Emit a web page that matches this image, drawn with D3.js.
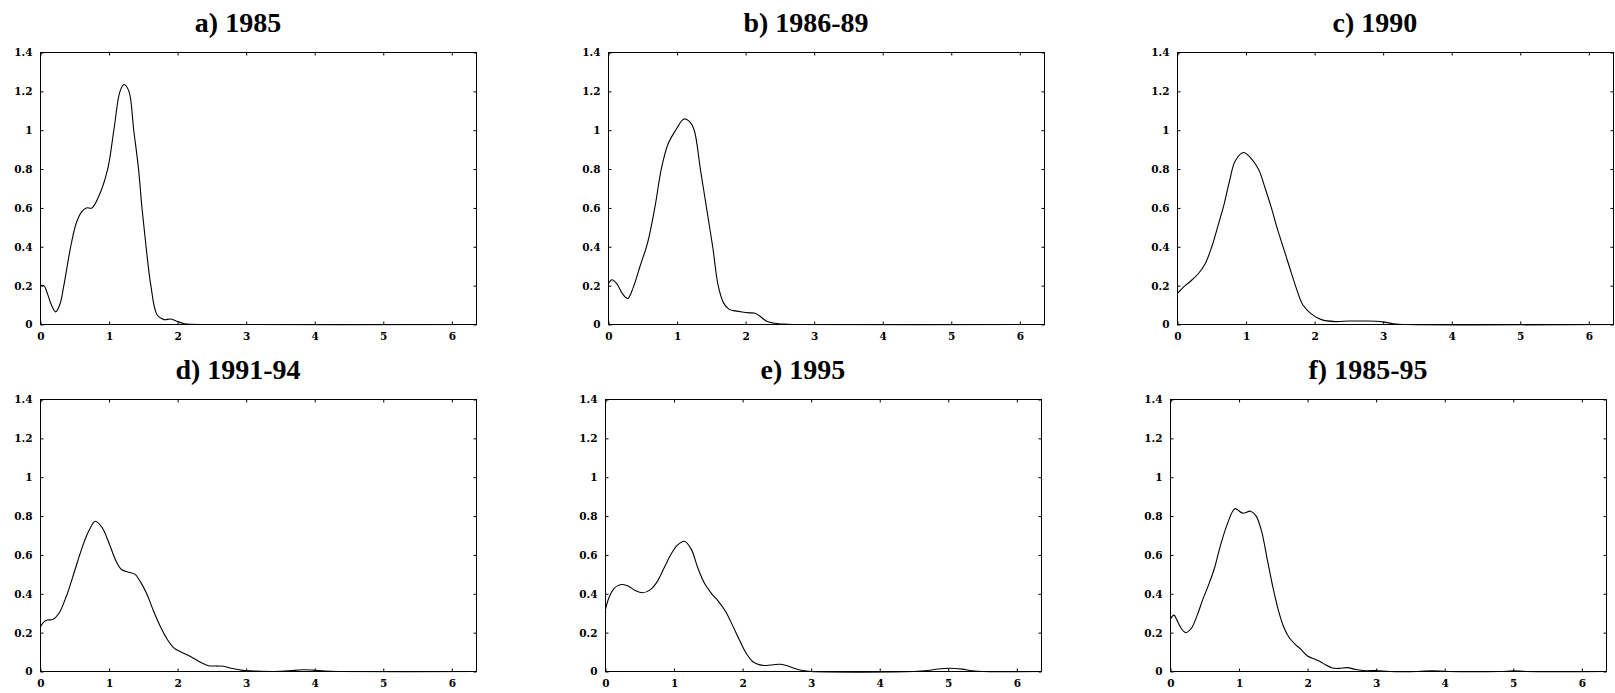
<!DOCTYPE html>
<html>
<head>
<meta charset="utf-8">
<script src="https://cdn.jsdelivr.net/npm/d3@7"></script>
<style>
  html, body { margin: 0; padding: 0; background: #fff; }
  svg { display: block; }
</style>
</head>
<body>
<svg id="chart" width="1615" height="693"></svg>
<script>
// Kernel density estimates, one per period
const titles = ["a) 1985", "b) 1986-89", "c) 1990", "d) 1991-94", "e) 1995", "f) 1985-95"];

const xA = [0, 0.05, 0.1, 0.16, 0.22, 0.28, 0.34, 0.44, 0.52, 0.6, 0.67, 0.75, 0.85, 0.98, 1.07, 1.16, 1.22, 1.29, 1.36, 1.43, 1.48, 1.54, 1.61, 1.7, 1.8, 1.9, 2.0, 2.1, 2.2, 2.4, 6.36];
const yA = [0.20, 0.20, 0.16, 0.10, 0.065, 0.10, 0.20, 0.40, 0.52, 0.58, 0.60, 0.60, 0.66, 0.80, 1.00, 1.20, 1.235, 1.20, 1.00, 0.80, 0.60, 0.40, 0.20, 0.05, 0.025, 0.028, 0.015, 0.004, 0.001, 0, 0];

const xB = [0, 0.05, 0.12, 0.2, 0.28, 0.36, 0.46, 0.57, 0.68, 0.77, 0.87, 0.98, 1.1, 1.18, 1.25, 1.34, 1.43, 1.52, 1.6, 1.68, 1.76, 1.85, 1.95, 2.05, 2.14, 2.22, 2.3, 2.4, 2.55, 2.7, 6.36];
const yB = [0.21, 0.23, 0.21, 0.16, 0.134, 0.19, 0.30, 0.42, 0.61, 0.80, 0.93, 1.00, 1.058, 1.045, 1.00, 0.80, 0.60, 0.40, 0.20, 0.11, 0.078, 0.07, 0.064, 0.06, 0.058, 0.04, 0.018, 0.008, 0.002, 0, 0];

const xC = [0, 0.08, 0.18, 0.3, 0.4, 0.5, 0.6, 0.68, 0.76, 0.84, 0.96, 1.06, 1.18, 1.28, 1.37, 1.45, 1.54, 1.63, 1.72, 1.83, 1.95, 2.1, 2.3, 2.5, 2.7, 2.9, 3.02, 3.15, 3.35, 6.36];
const yC = [0.16, 0.19, 0.22, 0.26, 0.31, 0.40, 0.52, 0.62, 0.74, 0.84, 0.885, 0.86, 0.80, 0.70, 0.60, 0.50, 0.40, 0.30, 0.20, 0.10, 0.055, 0.025, 0.015, 0.018, 0.018, 0.017, 0.012, 0.004, 0, 0];

const xD = [0, 0.05, 0.1, 0.18, 0.27, 0.38, 0.5, 0.6, 0.7, 0.8, 0.9, 1.0, 1.1, 1.18, 1.3, 1.38, 1.46, 1.55, 1.65, 1.75, 1.85, 1.95, 2.05, 2.2, 2.32, 2.45, 2.55, 2.67, 2.8, 2.95, 3.15, 3.4, 3.62, 3.82, 3.98, 4.15, 4.35, 6.36];
const yD = [0.23, 0.255, 0.265, 0.268, 0.30, 0.39, 0.52, 0.63, 0.72, 0.773, 0.74, 0.66, 0.57, 0.525, 0.51, 0.50, 0.46, 0.40, 0.31, 0.23, 0.165, 0.12, 0.10, 0.075, 0.05, 0.03, 0.028, 0.027, 0.015, 0.006, 0.002, 0, 0.003, 0.009, 0.007, 0.002, 0, 0];

const xE = [0, 0.05, 0.12, 0.18, 0.25, 0.33, 0.42, 0.54, 0.65, 0.75, 0.85, 0.95, 1.05, 1.15, 1.25, 1.35, 1.45, 1.55, 1.65, 1.75, 1.85, 1.95, 2.05, 2.15, 2.25, 2.35, 2.45, 2.55, 2.65, 2.75, 2.88, 3.0, 4.5, 4.7, 4.85, 5.02, 5.2, 5.35, 5.5, 6.36];
const yE = [0.32, 0.38, 0.425, 0.442, 0.448, 0.44, 0.42, 0.405, 0.42, 0.46, 0.53, 0.60, 0.65, 0.67, 0.63, 0.53, 0.45, 0.40, 0.36, 0.31, 0.24, 0.165, 0.095, 0.05, 0.034, 0.031, 0.035, 0.037, 0.03, 0.017, 0.005, 0, 0, 0.005, 0.013, 0.017, 0.012, 0.004, 0, 0];

const xF = [0, 0.05, 0.1, 0.16, 0.22, 0.3, 0.39, 0.47, 0.56, 0.64, 0.73, 0.83, 0.94, 1.05, 1.17, 1.25, 1.33, 1.41, 1.49, 1.57, 1.65, 1.73, 1.82, 1.9, 2.0, 2.1, 2.18, 2.26, 2.36, 2.46, 2.58, 2.7, 2.85, 3.0, 3.2, 3.6, 3.82, 4.05, 4.8, 5.0, 5.2, 6.36];
const yF = [0.27, 0.29, 0.26, 0.22, 0.20, 0.22, 0.29, 0.37, 0.45, 0.53, 0.65, 0.76, 0.838, 0.815, 0.825, 0.80, 0.72, 0.58, 0.44, 0.32, 0.23, 0.175, 0.14, 0.115, 0.08, 0.064, 0.052, 0.035, 0.018, 0.016, 0.02, 0.01, 0.004, 0.005, 0, 0, 0.004, 0, 0, 0.003, 0, 0];

const seriesX = [xA, xB, xC, xD, xE, xF];
const seriesY = [yA, yB, yC, yD, yE, yF];

// Axis ticks
const xTickValues = [0, 1, 2, 3, 4, 5, 6];
const xTickLabels = ["0", "1", "2", "3", "4", "5", "6"];
const yTickValues = [0, 0.2, 0.4, 0.6, 0.8, 1, 1.2, 1.4];
const yTickLabels = ["0", "0.2", "0.4", "0.6", "0.8", "1", "1.2", "1.4"];
const xDomain = [0, 6.36];
const yDomain = [0, 1.4];

// Panel frames (left edge of each plot area, top of each row)
const panelLeft = [40, 608, 1177, 40, 605, 1170];
const rowTop = [52, 399];
const plotW = 436, plotH = 272;

const svg = d3.select("#chart");
const line = d3.line().curve(d3.curveCatmullRom.alpha(0.5));

titles.forEach((title, i) => {
  const left = panelLeft[i];
  const top = rowTop[Math.floor(i / 3)];
  const g = svg.append("g").attr("transform", `translate(${left + 0.5},${top + 0.5})`);

  const x = d3.scaleLinear().domain(xDomain).range([0, plotW]);
  const y = d3.scaleLinear().domain(yDomain).range([plotH, 0]);

  const tickStyle = sel => {
    sel.select(".domain").remove();
    sel.selectAll(".tick line").attr("stroke", "#000").attr("stroke-width", 1);
    sel.selectAll(".tick text")
      .attr("font-family", "'DejaVu Serif', serif")
      .attr("font-weight", "bold")
      .attr("font-size", 10.5)
      .attr("fill", "#000");
  };

  // bottom and left axes carry labels; top and right mirror the ticks
  g.append("g").attr("transform", `translate(0,${plotH})`)
    .call(d3.axisBottom(x).tickValues(xTickValues).tickSize(-3).tickPadding(8)
      .tickFormat((d, k) => xTickLabels[k]))
    .call(tickStyle);
  g.append("g")
    .call(d3.axisTop(x).tickValues(xTickValues).tickSize(-3).tickFormat(""))
    .call(tickStyle);
  g.append("g")
    .call(d3.axisLeft(y).tickValues(yTickValues).tickSize(-3).tickPadding(8)
      .tickFormat((d, k) => yTickLabels[k]))
    .call(tickStyle);
  g.append("g").attr("transform", `translate(${plotW},0)`)
    .call(d3.axisRight(y).tickValues(yTickValues).tickSize(-3).tickFormat(""))
    .call(tickStyle);

  g.append("rect")
    .attr("width", plotW).attr("height", plotH)
    .attr("fill", "none").attr("stroke", "#000").attr("stroke-width", 1);

  const pts = seriesX[i].map((xv, k) => [x(xv), y(seriesY[i][k])]);
  g.append("path")
    .attr("d", line(pts))
    .attr("fill", "none")
    .attr("stroke", "#000")
    .attr("stroke-width", 1.1);

  svg.append("text")
    .attr("x", left - 40 + (plotW + 40) / 2)
    .attr("y", top - 20)
    .attr("text-anchor", "middle")
    .attr("font-family", "'Liberation Serif', 'Times New Roman', serif")
    .attr("font-weight", "bold")
    .attr("font-size", 28)
    .text(title);
});
</script>
</body>
</html>
